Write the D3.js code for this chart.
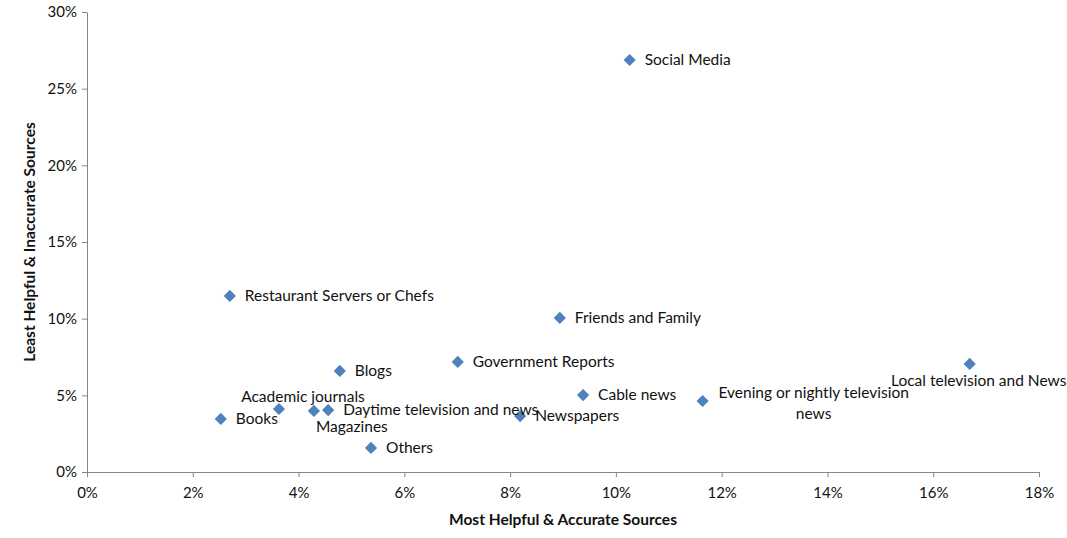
<!DOCTYPE html>
<html><head><meta charset="utf-8">
<script src="https://cdn.jsdelivr.net/npm/d3@7"></script>
<style>
body{margin:0;background:#fff;}
svg{font-family:Lato,"Open Sans",sans-serif;}
</style></head>
<body><svg id="chart" width="1067" height="538"></svg>
<script>
const names = ["Social Media","Restaurant Servers or Chefs","Friends and Family","Government Reports","Blogs","Local television and News","Cable news","Evening or nightly television news","Academic journals","Daytime television and news","Magazines","Books","Newspapers","Others"];
const mostHelpful = [0.1026,0.0270,0.0894,0.0701,0.0478,0.1669,0.0938,0.1164,0.0363,0.0456,0.0429,0.0253,0.0819,0.0537];
const leastHelpful = [0.2687,0.1148,0.1005,0.0718,0.0659,0.0705,0.0502,0.0463,0.0411,0.0404,0.0398,0.0346,0.0365,0.0157];
const xTicks = [0,0.02,0.04,0.06,0.08,0.10,0.12,0.14,0.16,0.18];
const yTicks = [0,0.05,0.10,0.15,0.20,0.25,0.30];

// label placement (dx, dy, anchor) relative to each point
const labelPos = {
  "Academic journals": {dx:24, dy:-12, anchor:"middle"},
  "Magazines": {dx:38, dy:16, anchor:"middle"},
  "Local television and News": {dx:9, dy:17, anchor:"middle"},
  "Evening or nightly television news": {dx:111, dy:-8, anchor:"middle", lines:["Evening or nightly television","news"]}
};

const svg = d3.select("#chart");
const x = d3.scaleLinear().domain([0,0.18]).range([87,1039]);
const y = d3.scaleLinear().domain([0,0.30]).range([472,12]);
const fmt = d => Math.round(d*100)+"%";

const xAxis = svg.append("g").attr("transform","translate(0,472)")
  .call(d3.axisBottom(x).tickValues(xTicks).tickFormat(fmt).tickSize(5).tickSizeOuter(0));
const yAxis = svg.append("g").attr("transform","translate(87,0)")
  .call(d3.axisLeft(y).tickValues(yTicks).tickFormat(fmt).tickSize(5).tickSizeOuter(0));
[xAxis,yAxis].forEach(a=>{
  a.selectAll("path,line").attr("stroke","#868686");
  a.selectAll("text").attr("fill","#111").style("font-size","15px").style("font-family","Lato,'Open Sans',sans-serif");
});
xAxis.selectAll("text").attr("dy","1.2em");
yAxis.selectAll("text").attr("dx","-2px");

svg.append("text").attr("x",563).attr("y",525).attr("text-anchor","middle")
  .style("font-size","15.5px").style("font-weight","bold").attr("fill","#111")
  .text("Most Helpful & Accurate Sources");
svg.append("text").attr("transform","translate(35,242) rotate(-90)").attr("text-anchor","middle")
  .style("font-size","15.5px").style("font-weight","bold").attr("fill","#111")
  .text("Least Helpful & Inaccurate Sources");

const data = names.map((n,i)=>({name:n,x:mostHelpful[i],y:leastHelpful[i]}));
const diamond = d3.symbol().type(d3.symbolDiamond2).size(95);
svg.append("g").selectAll("path").data(data).join("path")
  .attr("d",diamond)
  .attr("transform",d=>`translate(${x(d.x)},${y(d.y)})`)
  .attr("fill","#4F81BD");

const lg = svg.append("g").style("font-size","15.5px").attr("fill","#111");
data.forEach(d=>{
  const p = labelPos[d.name] || {dx:15, dy:0, anchor:"start"};
  const lines = p.lines || [d.name];
  const t = lg.append("text").attr("text-anchor",p.anchor)
    .attr("x",x(d.x)+p.dx).attr("y",y(d.y)+p.dy).attr("dy","0.35em");
  lines.forEach((l,i)=>{
    t.append("tspan").attr("x",x(d.x)+p.dx).attr("dy", i===0?"0.35em":"1.3em").text(l);
  });
});
</script></body></html>
